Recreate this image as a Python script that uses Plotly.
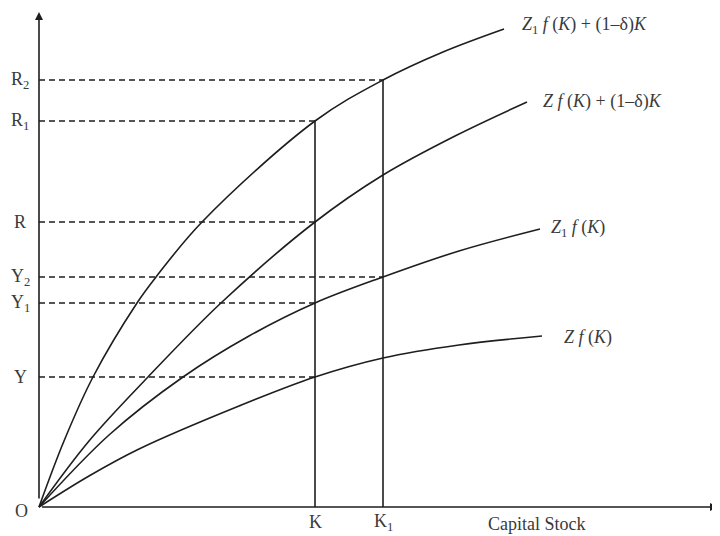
import plotly.graph_objects as go

# ---- data (x: capital stock, y: output / resources) ----
curve_names = [
    "<i>Z</i><sub>1</sub> <i>f</i> (<i>K</i>) + (1–δ)<i>K</i>",
    "<i>Z f</i> (<i>K</i>) + (1–δ)<i>K</i>",
    "<i>Z</i><sub>1</sub> <i>f</i> (<i>K</i>)",
    "<i>Z f</i> (<i>K</i>)",
]
c1_x = [0, 25, 54, 98, 117, 163, 276, 344, 404, 465]
c1_y = [0, 66, 130, 204, 230, 285, 386, 427, 455, 478]
c2_x = [0, 50, 109, 183, 276, 344, 418, 488]
c2_y = [0, 66, 130, 205, 285, 332, 372, 405]
c3_x = [0, 70, 144, 210, 276, 344, 420, 501]
c3_y = [0, 72, 130, 171, 204, 230, 256, 278]
c4_x = [0, 50, 100, 200, 276, 344, 420, 503]
c4_y = [0, 31, 58, 101, 130, 149, 162, 171]

k_labels = ["K", "K<sub>1</sub>"]
k_values = [276, 344]
k_tops = [386, 427]

level_labels = ["R<sub>2</sub>", "R<sub>1</sub>", "R", "Y<sub>2</sub>", "Y<sub>1</sub>", "Y"]
level_values = [427, 386, 285, 230, 204, 130]
level_ends = [344, 276, 276, 344, 276, 276]

x_axis_max = 679
y_axis_max = 495
x_title = "Capital Stock"

# label placement (layout, not data)
curve_label_pos = [(481, 482), (502, 406), (510, 279), (523, 170)]

ink = "#1e1e1e"
txt = "#3a3a3a"
font_serif = "Liberation Serif, DejaVu Serif, serif"

fig = go.Figure()

curves = [(c1_x, c1_y), (c2_x, c2_y), (c3_x, c3_y), (c4_x, c4_y)]
for name, (cx, cy), (lx, ly) in zip(curve_names, curves, curve_label_pos):
    fig.add_trace(go.Scatter(x=cx, y=cy, mode="lines", name=name,
                             line=dict(color=ink, width=1.6, shape="spline", smoothing=1.0),
                             hoverinfo="skip"))
    fig.add_annotation(x=lx, y=ly, text=name, showarrow=False,
                       xanchor="left", yanchor="middle",
                       font=dict(family=font_serif, size=18, color=txt))

# vertical lines at K and K1
for lab, kv, top in zip(k_labels, k_values, k_tops):
    fig.add_trace(go.Scatter(x=[kv, kv], y=[0, top], mode="lines",
                             line=dict(color=ink, width=1.6), hoverinfo="skip"))
    fig.add_annotation(x=kv, y=-15, text=lab, showarrow=False,
                       font=dict(family=font_serif, size=18, color=txt))

# dashed horizontal lines
for lab, lv, le in zip(level_labels, level_values, level_ends):
    fig.add_trace(go.Scatter(x=[0, le], y=[lv, lv], mode="lines",
                             line=dict(color=ink, width=1.6, dash="6px,4px"), hoverinfo="skip"))
    fig.add_annotation(x=-19, y=lv, text=lab, showarrow=False,
                       font=dict(family=font_serif, size=18, color=txt))

# axes with arrows
fig.add_annotation(x=0, y=y_axis_max, ax=0, ay=0, axref="x", ayref="y",
                   showarrow=True, arrowhead=2, arrowsize=1, arrowwidth=1.6,
                   arrowcolor=ink, text=" ", font=dict(size=10))
fig.add_annotation(x=x_axis_max, y=0, ax=0, ay=0, axref="x", ayref="y",
                   showarrow=True, arrowhead=2, arrowsize=1, arrowwidth=1.6,
                   arrowcolor=ink, text=" ", font=dict(size=10))
fig.add_annotation(x=-18, y=-4, text="O", showarrow=False,
                   font=dict(family=font_serif, size=18, color=txt))
fig.add_annotation(x=498, y=-17, text=x_title, showarrow=False,
                   font=dict(family=font_serif, size=18, color=txt))

fig.update_layout(
    width=712, height=528,
    margin=dict(l=0, r=0, t=0, b=0),
    paper_bgcolor="white", plot_bgcolor="white",
    showlegend=False,
    xaxis=dict(range=[-31, 681], visible=False, fixedrange=True),
    yaxis=dict(range=[-29, 499], visible=False, fixedrange=True),
)

fig.write_html("out.html")
